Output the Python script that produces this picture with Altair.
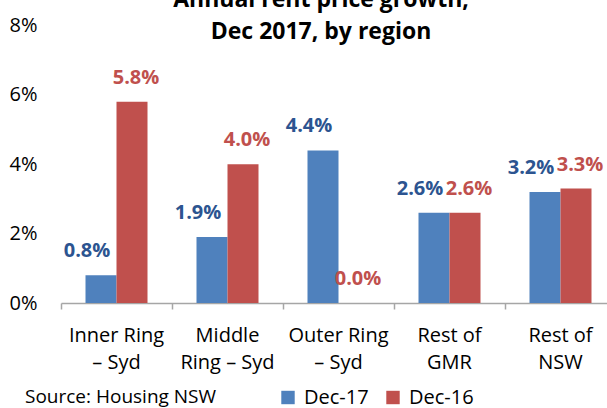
import altair as alt
import pandas as pd

# Values
regions = ["Inner Ring\n– Syd", "Middle\nRing – Syd", "Outer Ring\n– Syd", "Rest of\nGMR", "Rest of\nNSW"]
series = ["Dec-17", "Dec-16"]
dec17 = [0.8, 1.9, 4.4, 2.6, 3.2]
dec16 = [5.8, 4.0, 0.0, 2.6, 3.3]
y_ticks = [0, 2, 4, 6, 8]
title_lines = ["Annual rent price growth,", "Dec 2017, by region"]
source_note = ["Source: Housing NSW"]

BLUE = "#4F81BD"
RED = "#C0504D"
BLUE_LABEL = "#2C5490"
FONT = "Open Sans"

rows = []
for r, a, b in zip(regions, dec17, dec16):
    rows.append({"region": r, "series": series[0], "value": a})
    rows.append({"region": r, "series": series[1], "value": b})
df = pd.DataFrame(rows)
df["label"] = df["value"].map(lambda v: f"{v:.1f}%")

BAND = 111          # width of one region's band
PAD_LEFT = 61
PAD_TOP = 25.5
PLOT_H = 277.5
PLOT_W = 607 - PAD_LEFT

x_enc = alt.X(
    "region:N", sort=regions, title=None,
    scale=alt.Scale(range=[0, BAND * len(regions)], paddingInner=0, paddingOuter=0),
    axis=alt.Axis(
        labelExpr="split(datum.label, '\\n')", labelAngle=0, bandPosition=0,
        labelFont=FONT, labelFontSize=20, labelColor="black",
        labelLineHeight=27, labelPadding=16, tickSize=6, labelBaseline="top",
    ),
)
xoff_enc = alt.XOffset("series:N", sort=series,
                       scale=alt.Scale(paddingInner=0, paddingOuter=0.79))
y_enc = alt.Y(
    "value:Q", title=None,
    scale=alt.Scale(domain=[0, 8], nice=False),
    axis=alt.Axis(values=y_ticks, labelExpr="datum.value + '%'", grid=False,
                  domain=False, ticks=False, labelPadding=24, labelFont=FONT,
                  labelFontSize=20, labelColor="black"),
)

base = alt.Chart(df).encode(x=x_enc, xOffset=xoff_enc, y=y_enc)

bars = base.mark_bar().encode(
    color=alt.Color(
        "series:N", sort=series,
        scale=alt.Scale(domain=series, range=[BLUE, RED]),
        legend=alt.Legend(
            orient="none", legendX=217, legendY=362, direction="horizontal",
            title=None, symbolType="square", symbolSize=180, symbolStrokeWidth=0,
            symbolOpacity=1, labelFont=FONT, labelFontSize=20, labelColor="black",
            columnPadding=14, labelOffset=6, padding=0,
        ),
    )
)

# Value labels: the Dec-17 labels sit a little left of their bars, Dec-16 a little right
label_style = dict(baseline="alphabetic", font=FONT, fontSize=20, fontWeight="bold")
labels_17 = base.transform_filter(f"datum.series == '{series[0]}'").mark_text(
    dy=-18, dx=-14, color=BLUE_LABEL, **label_style
).encode(text="label:N")
labels_16 = base.transform_filter(f"datum.series == '{series[1]}'").mark_text(
    dy=-18, dx=4, color=RED, **label_style
).encode(text="label:N")

source = alt.Chart(pd.DataFrame({"note": source_note})).mark_text(
    align="left", baseline="alphabetic", font=FONT, fontSize=19, color="black"
).encode(
    text="note:N",
    x=alt.value(25 - PAD_LEFT),
    y=alt.value(403 - PAD_TOP),
)

chart = alt.layer(bars, labels_17, labels_16, source).properties(
    width=PLOT_W,
    height=PLOT_H,
    autosize=alt.AutoSizeParams(type="none"),
    padding={"left": PAD_LEFT, "top": PAD_TOP, "right": 0, "bottom": 408 - PAD_TOP - PLOT_H},
    title=alt.TitleParams(
        title_lines, font=FONT, fontSize=23, fontWeight="bold", color="black",
        anchor="middle", dx=-13, offset=-28, lineHeight=32,
    ),
).configure_view(stroke=None).configure_axis(
    domainColor="#A6A6A6", domainWidth=1.5, tickColor="#A6A6A6", tickWidth=1.5,
)

chart.save("out.html", embed_options={"renderer": "svg", "actions": False})
